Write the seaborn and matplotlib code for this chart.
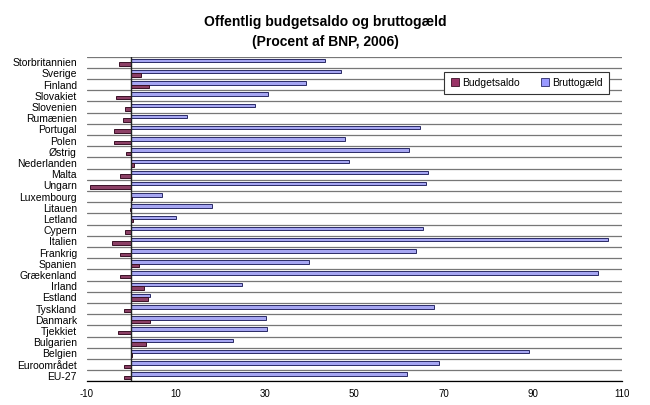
import numpy as np
import pandas as pd
import matplotlib
matplotlib.use("Agg")
import matplotlib.pyplot as plt
import seaborn as sns
from matplotlib.patches import Patch

countries = ["Storbritannien", "Sverige", "Finland", "Slovakiet", "Slovenien", "Rumænien",
             "Portugal", "Polen", "Østrig", "Nederlanden", "Malta", "Ungarn", "Luxembourg",
             "Litauen", "Letland", "Cypern", "Italien", "Frankrig", "Spanien", "Grækenland",
             "Irland", "Estland", "Tyskland", "Danmark", "Tjekkiet", "Bulgarien", "Belgien",
             "Euroområdet", "EU-27"]
budgetsaldo = [-2.8, 2.2, 3.9, -3.4, -1.4, -1.9, -3.9, -3.9, -1.1, 0.6, -2.6, -9.2, 0.1,
               -0.3, 0.4, -1.5, -4.4, -2.5, 1.8, -2.6, 2.9, 3.8, -1.7, 4.2, -2.9, 3.3, 0.2,
               -1.6, -1.7]
bruttogaeld = [43.5, 46.9, 39.1, 30.7, 27.8, 12.4, 64.7, 47.8, 62.2, 48.7, 66.5, 66.0, 6.8,
               18.2, 10.0, 65.3, 106.8, 63.9, 39.9, 104.6, 24.9, 4.1, 67.9, 30.2, 30.4, 22.8,
               89.1, 69.0, 61.7]
series_names = ["Budgetsaldo", "Bruttogæld"]
xticks = [-10, 10, 30, 50, 70, 90, 110]
title = "Offentlig budgetsaldo og bruttogæld\n(Procent af BNP, 2006)"

sns.set_style("white")
plt.rcParams["font.family"] = ["Liberation Sans", "DejaVu Sans"]
plt.rcParams["text.color"] = "black"
plt.rcParams["xtick.color"] = "black"
plt.rcParams["ytick.color"] = "black"
plt.rcParams["axes.labelcolor"] = "black"

df = pd.DataFrame({
    "Land": countries * 2,
    "Værdi": budgetsaldo + bruttogaeld,
    "Serie": [series_names[0]] * len(countries) + [series_names[1]] * len(countries),
})

colors = {"Budgetsaldo": "#993366", "Bruttogæld": "#9999FF"}
edges = {"Budgetsaldo": "#3a1026", "Bruttogæld": "#2a2a66"}

fig = plt.figure(figsize=(6.5, 4.05), dpi=100)
ax = fig.add_axes([86.7 / 650, 1 - 381.3 / 405, (622 - 86.7) / 650, (381.3 - 56.7) / 405])

hue_order = ["Bruttogæld", "Budgetsaldo"]
sns.barplot(data=df, y="Land", x="Værdi", hue="Serie", hue_order=hue_order,
            order=countries, orient="h", palette=colors, width=0.62, gap=0,
            linewidth=0.7, ax=ax, legend=False)

for bar_container, name in zip(ax.containers, hue_order):
    for p in bar_container:
        p.set_edgecolor(edges[name])

ax.set_xlim(-10, 110)
ax.set_ylim(len(countries) - 0.5, -0.5)
ax.set_xticks(xticks)
ax.set_xticklabels([str(t) for t in xticks], fontsize=7)
ax.tick_params(axis="x", direction="inout", length=5, width=0.8, color="black", pad=3)
ax.set_yticks(range(len(countries)))
ax.set_yticklabels(countries, fontsize=7.5)
ax.tick_params(axis="y", length=0, pad=7)
ax.set_yticks(np.arange(-0.5, len(countries)), minor=True)
ax.tick_params(axis="y", which="minor", length=0)
ax.grid(axis="y", which="minor", color="#777777", linewidth=0.9)
ax.grid(axis="y", which="major", visible=False)
ax.grid(axis="x", visible=False)
ax.set_axisbelow(True)
ax.axvline(0, color="#222222", linewidth=1.0, zorder=3)

for s in ["left", "right", "top"]:
    ax.spines[s].set_visible(False)
ax.spines["bottom"].set_color("black")
ax.spines["bottom"].set_linewidth(0.9)
ax.set_xlabel("")
ax.set_ylabel("")

fig.text(0.5, 1 - 32 / 405, title, ha="center", va="center", fontsize=10,
         fontweight="bold", linespacing=1.5)

handles = [Patch(facecolor=colors[n], edgecolor=edges[n], linewidth=0.6) for n in series_names]
leg = ax.legend(handles, series_names, loc="center", ncol=2,
                bbox_to_anchor=(0.666, 0.870, 0.312, 0.098), fontsize=7.5,
                frameon=True, fancybox=False, shadow=False, handlelength=0.8,
                handleheight=0.8, handletextpad=0.3, columnspacing=2.0, borderpad=0.6)
leg.get_frame().set_edgecolor("#333333")
leg.get_frame().set_linewidth(0.8)
leg.get_frame().set_facecolor("white")
leg.get_frame().set_alpha(1)

fig.savefig("out.png", dpi=100)
